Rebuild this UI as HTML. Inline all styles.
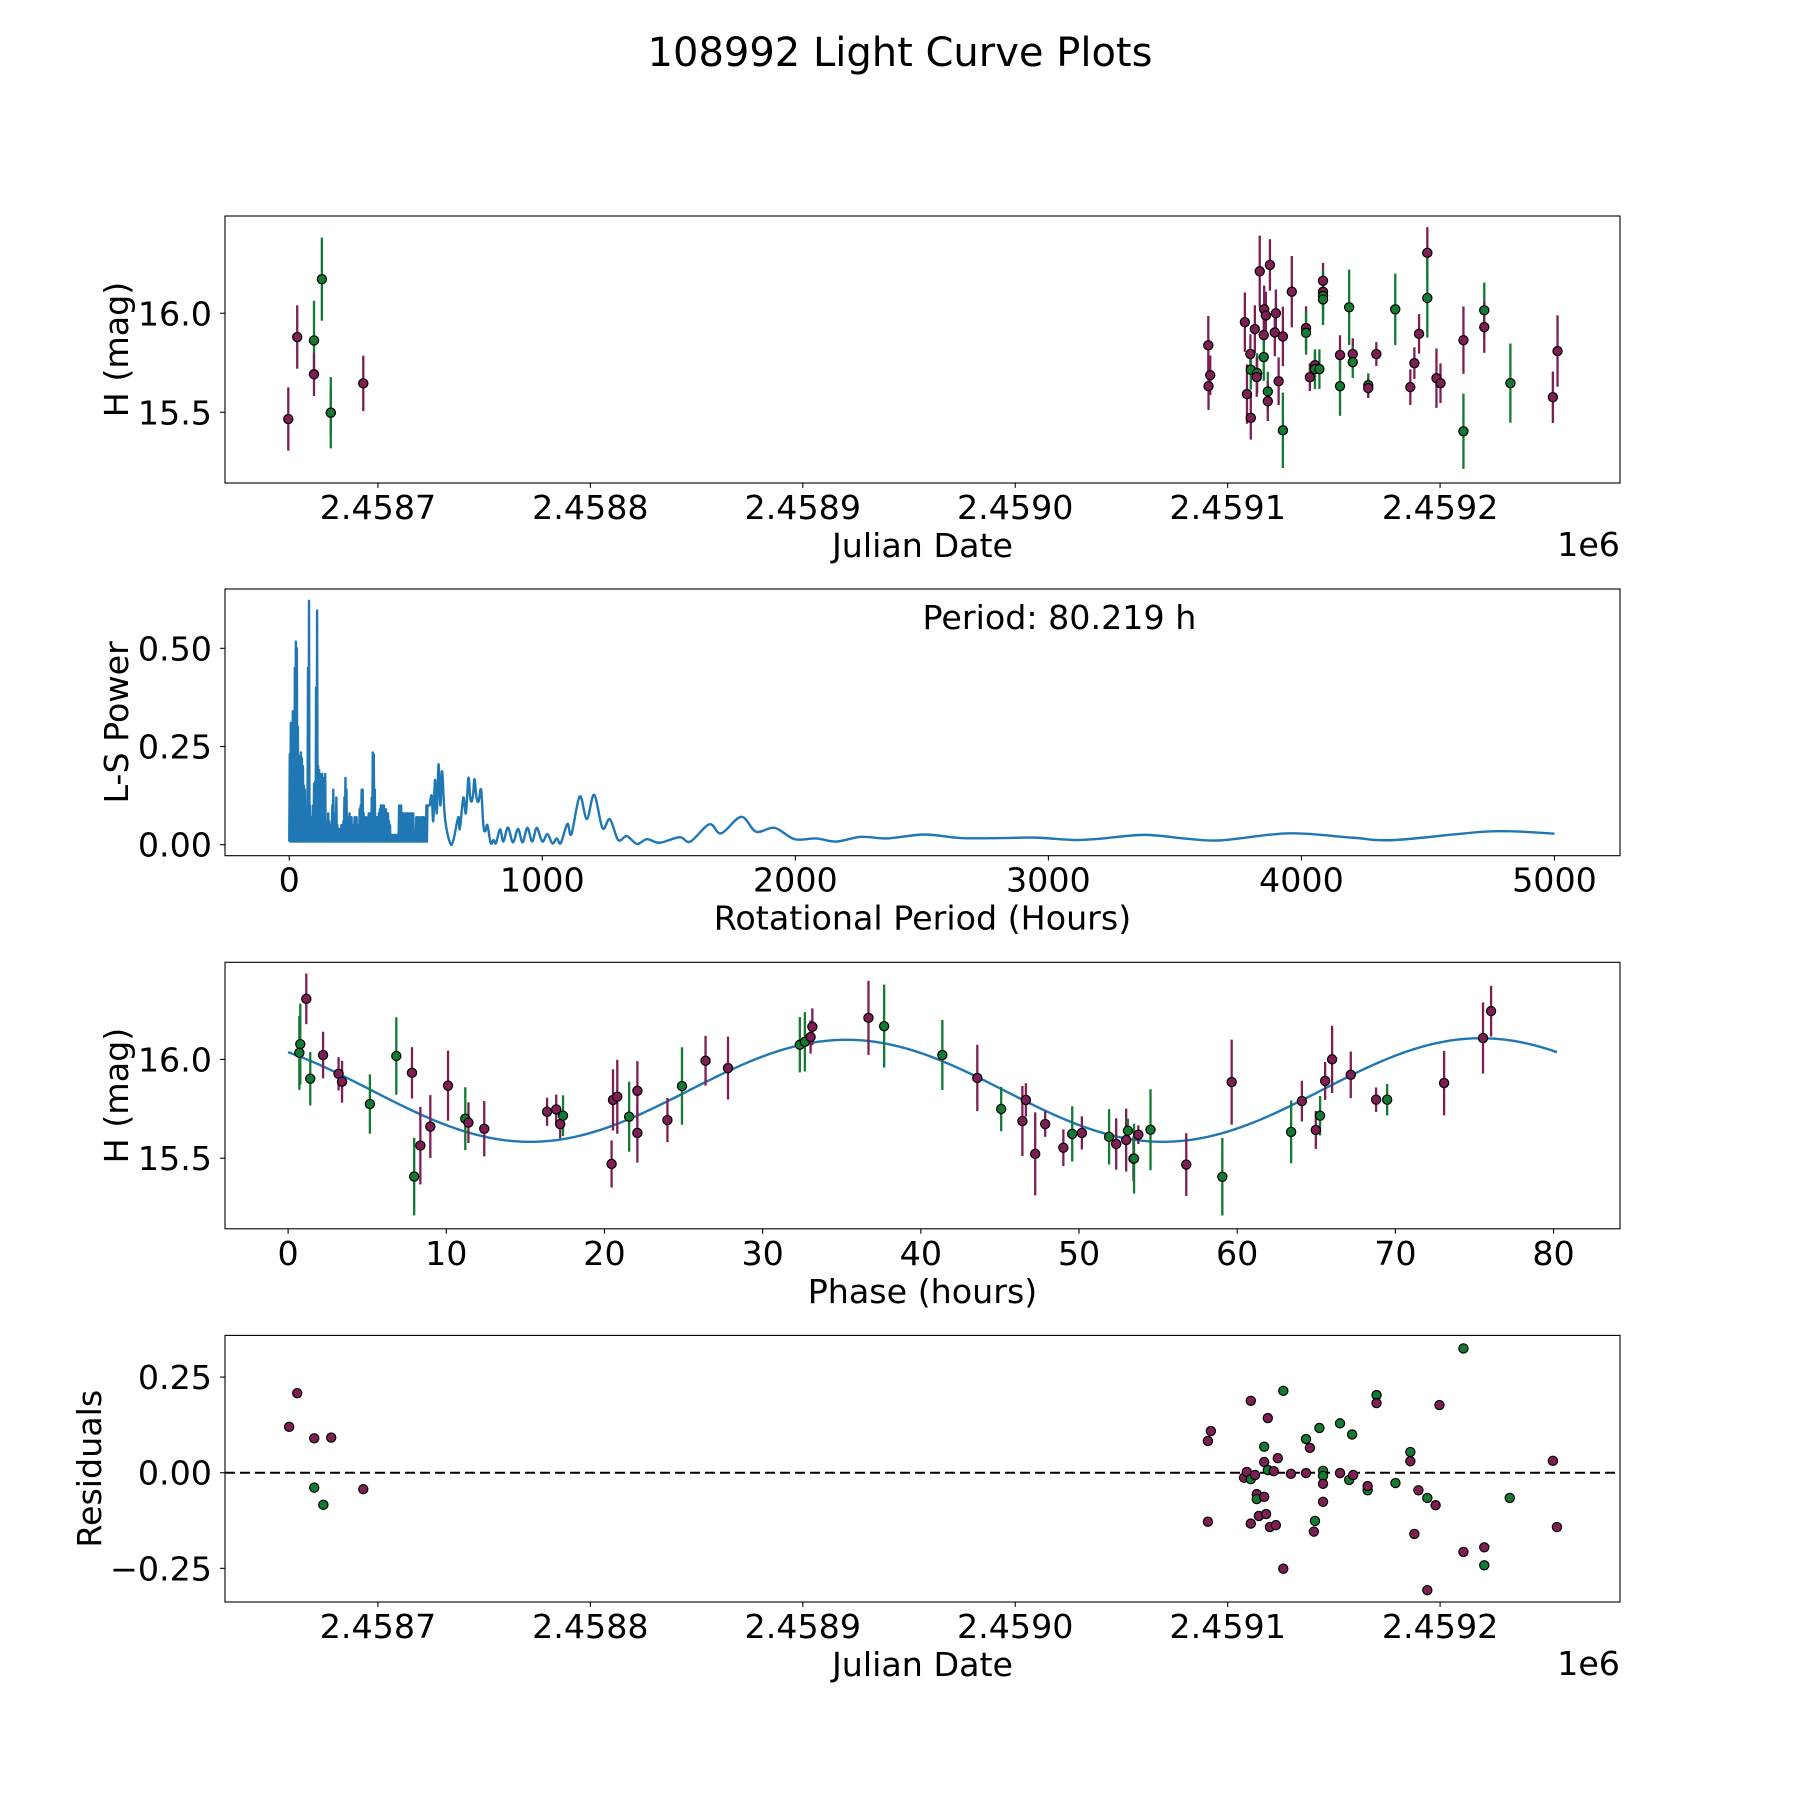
<!DOCTYPE html>
<html>
<head>
<meta charset="utf-8">
<style>
  html, body { margin: 0; padding: 0; background: #ffffff; }
  svg { display: block; font-family: "DejaVu Sans", "Liberation Sans", sans-serif; }
</style>
</head>
<body>
<svg id="fig" xmlns="http://www.w3.org/2000/svg" width="1800" height="1800" viewBox="0 0 1800 1800">
  <rect x="0" y="0" width="1800" height="1800" fill="#ffffff"/>
  <text x="900" y="66" text-anchor="middle" font-size="40" fill="#000">108992 Light Curve Plots</text>
</svg>
<script>
// ---------- Panel 1: light curve data ----------
const lcJD = [2458657.8,2458662.0,2458669.9,2458669.9,2458673.6,2458677.8,2458677.8,2458693.1,
 2459090.9,2459091.8,2459091.0,2459108.1,2459112.8,2459110.7,2459110.9,2459113.9,2459113.7,2459109.1,2459110.9,
 2459115.1,2459119.9,2459117.2,2459118.0,2459117.0,2459117.0,2459118.9,2459118.9,2459122.7,2459122.2,2459126.0,
 2459124.0,2459126.0,2459130.2,2459136.9,2459136.9,2459138.7,2459141.1,2459141.1,2459143.2,2459144.9,2459144.9,
 2459144.9,2459144.9,2459152.9,2459152.9,2459157.2,2459158.9,2459158.9,2459166.2,2459166.2,2459170.0,2459178.9,
 2459186.0,2459187.9,2459190.1,2459194.0,2459194.0,2459198.3,2459200.2,2459211.0,2459211.0,2459220.8,2459220.8,
 2459233.1,2459253.1,2459255.3];
const lcMag = [15.466,15.88,15.863,15.692,16.172,15.498,15.498,15.646,
 15.838,15.687,15.632,15.955,15.92,15.794,15.715,15.698,15.678,15.592,15.472,
 16.212,16.244,16.02,15.989,15.89,15.779,15.605,15.556,16.0,15.903,15.883,
 15.657,15.409,16.109,15.925,15.901,15.677,15.738,15.718,15.718,16.164,16.108,
 16.088,16.07,15.789,15.632,16.03,15.794,15.753,15.637,15.622,15.794,16.02,
 15.627,15.748,15.896,16.305,16.077,15.672,15.647,15.864,15.404,16.015,15.93,
 15.647,15.576,15.809];
const lcErr = [0.16,0.16,0.2,0.11,0.21,0.12,0.18,0.14,
 0.148,0.1,0.12,0.15,0.12,0.1,0.1,0.1,0.1,0.15,0.11,
 0.18,0.13,0.12,0.12,0.12,0.12,0.1,0.1,0.12,0.12,0.15,
 0.12,0.19,0.18,0.11,0.11,0.07,0.06,0.1,0.1,0.09,0.09,
 0.13,0.13,0.1,0.15,0.19,0.08,0.08,0.06,0.05,0.06,0.18,
 0.09,0.08,0.1,0.13,0.2,0.15,0.1,0.17,0.19,0.14,0.13,
 0.2,0.13,0.18];
const lcBand = [0,0,1,0,1,0,1,0,
 0,0,0,0,0,0,1,1,0,0,0,
 0,0,0,0,0,1,1,0,0,0,0,
 0,1,0,0,1,0,0,1,1,0,0,
 1,1,0,1,1,0,1,1,0,0,1,
 0,0,0,0,1,0,0,0,1,1,0,
 1,0,0];

// ---------- Panel 2: Lomb-Scargle periodogram ----------
const lsDenseStart = 0;
const lsDenseStep = 4;
const lsDenseFloor = 0.008;
const lsDensePeaks = [0.23,0.31,0.31,0.34,0.30,0.45,0.517,0.50,0.30,0.225,0.22,0.235,0.22,0.20,0.15,0.14,0.06,0.09,0.45,0.621,
 0.10,0.06,0.07,0.10,0.155,0.16,0.40,0.596,0.20,0.19,0.17,0.18,0.18,0.17,0.15,0.18,0.06,0.05,0.08,0.06,
 0.05,0.04,0.10,0.14,0.08,0.06,0.12,0.05,0.03,0.04,0.03,0.05,0.04,0.06,0.12,0.17,0.14,0.07,0.05,0.08,
 0.06,0.07,0.05,0.04,0.07,0.06,0.07,0.04,0.05,0.09,0.10,0.14,0.14,0.08,0.06,0.07,0.06,0.07,0.08,0.06,
 0.08,0.12,0.235,0.23,0.14,0.06,0.07,0.05,0.08,0.09,0.10,0.10,0.09,0.10,0.08,0.09,0.07,0.08,0.06,0.05,
 0.025,0.02,0.025,0.02,0.025,0.02,0.025,0.025,0.10,0.09,0.10,0.08,0.08,0.07,0.08,0.06,0.08,0.07,0.08,0.06,
 0.08,0.07,0.08,0.02,0.02,0.07,0.06,0.07,0.06,0.07,0.06,0.07,0.07,0.06,0.07,0.10,0.10];
const lsSmoothPeriod = [555,563,569,576,583,590,597,604,615,635,648,668,674,688,698,708,715,721,727,732,740,748,758,767,774,783,796,807,817,833,846,864,884,904,922,941,960,978,1000,1020,1040,1057,1073,1099,1115,1148,1176,1205,1238,1267,1300,1334,1374,1414,1463,1542,1585,1660,1707,1786,1845,1918,1997,2082,2161,2260,2365,2510,2655,2813,2950,3100,3200,3380,3550,3680,3950,4200,4370,4750,5000];
const lsSmoothPower = [0.10,0.125,0.06,0.165,0.08,0.205,0.10,0.187,0.07,0.005,0.01,0.07,0.04,0.12,0.08,0.17,0.12,0.11,0.13,0.167,0.12,0.11,0.14,0.05,0.034,0.05,0.004,0.012,0.004,0.039,0.008,0.044,0.006,0.04,0.006,0.043,0.008,0.043,0.008,0.027,0.003,0.016,0.004,0.053,0.027,0.123,0.065,0.127,0.042,0.065,0.012,0.022,0.002,0.014,0.005,0.019,0.008,0.052,0.029,0.071,0.033,0.043,0.014,0.016,0.008,0.02,0.016,0.026,0.017,0.017,0.018,0.012,0.015,0.025,0.015,0.011,0.029,0.018,0.012,0.034,0.028];
const bestPeriodText = "Period: 80.219 h";

// ---------- Panel 3: phased light curve ----------
const phHours = [1.15,0.77,0.71,1.40,2.21,3.19,3.41,5.17,6.84,7.83,7.97,8.36,8.99,10.11,11.2,11.4,12.4,16.37,16.95,17.2,17.38,20.45,20.54,20.81,21.56,22.08,22.08,23.98,24.9,26.39,27.81,
 32.35,32.67,33.03,33.14,36.69,37.68,41.36,43.57,45.08,46.42,46.64,47.23,47.86,49.01,49.57,50.18,51.9,52.35,52.98,53.09,53.44,53.48,53.75,54.52,56.78,59.06,59.65,63.41,64.09,
 64.97,65.24,65.56,66.0,67.18,68.78,69.48,73.08,75.54,76.05];
const phMag = [16.306,16.077,16.033,15.902,16.022,15.927,15.887,15.774,16.017,15.932,15.407,15.564,15.66,15.867,15.7,15.68,15.649,15.735,15.747,15.673,15.715,15.471,15.795,15.811,15.71,15.841,15.628,15.693,15.865,15.993,15.956,
 16.074,16.089,16.113,16.165,16.21,16.168,16.022,15.906,15.749,15.688,15.795,15.522,15.673,15.553,15.623,15.628,15.608,15.572,15.592,15.639,15.498,15.498,15.619,15.644,15.468,15.406,15.885,15.633,15.789,
 15.643,15.715,15.891,16.0,15.922,15.796,15.796,15.88,16.108,16.244];
const phErr = [0.128,0.205,0.187,0.135,0.118,0.084,0.106,0.15,0.196,0.13,0.196,0.196,0.159,0.177,0.159,0.103,0.14,0.071,0.075,0.072,0.103,0.119,0.155,0.187,0.177,0.15,0.15,0.112,0.196,0.126,0.159,
 0.14,0.15,0.084,0.093,0.187,0.21,0.177,0.168,0.112,0.177,0.084,0.21,0.065,0.093,0.14,0.084,0.14,0.13,0.159,0.061,0.112,0.177,0.047,0.205,0.159,0.196,0.215,0.159,0.103,
 0.096,0.1,0.096,0.17,0.118,0.062,0.08,0.163,0.18,0.128];
const phBand = [0,1,1,1,0,0,0,1,1,0,1,0,0,0,1,0,0,0,0,0,1,0,0,0,1,0,0,0,1,0,0,
 1,1,0,0,0,1,1,0,1,0,0,0,0,0,1,0,1,0,0,1,0,1,0,1,0,1,0,1,0,
 0,1,0,0,0,0,1,0,0,0];
// fitted model: mean, half-period harmonic amplitude & peak phase, full-period harmonic amplitude & peak phase, period (h)
const modelMean = [15.843];
const modelAmp = [0.26, 0.004];
const modelPeak = [35.3, 75.0];
const modelPeriod = [80.219];

// ---------- Panel 4: residuals ----------
const resJD = [2458658.2,2458662.0,2458670.0,2458670.0,2458674.3,2458678.0,2458693.1,
 2459090.7,2459092.1,2459090.7,2459107.7,2459109.0,2459110.9,2459112.9,2459110.9,2459110.9,2459113.7,2459113.7,2459117.2,2459117.2,2459117.2,2459118.9,2459118.9,2459121.7,2459123.6,2459114.7,2459118.1,2459119.9,2459122.7,2459126.2,2459126.2,2459129.8,
 2459136.9,2459138.7,2459136.9,2459143.2,2459141.1,2459140.6,2459144.9,2459144.9,2459144.9,2459144.9,2459152.9,2459152.9,2459157.2,2459159.1,2459158.6,2459165.9,2459165.9,2459170.1,2459170.1,2459179.0,
 2459186.0,2459186.0,2459189.8,2459194.0,2459197.9,2459187.9,2459194.0,2459199.7,2459211.0,2459211.0,2459220.8,2459220.8,2459232.8,2459253.1,2459255.0];
const resVal = [0.12,0.208,0.09,-0.039,-0.084,0.092,-0.043,
 0.083,0.109,-0.128,-0.013,0.002,-0.017,-0.006,0.188,-0.133,-0.056,-0.069,-0.063,0.068,0.028,0.143,0.007,0.004,0.038,-0.113,-0.108,-0.142,-0.137,0.214,-0.251,-0.003,
 0.088,0.065,-0.001,0.117,-0.126,-0.154,0.005,-0.008,-0.029,-0.076,0.129,-0.001,-0.019,-0.006,0.1,-0.046,-0.035,0.203,0.182,-0.027,
 0.054,0.03,-0.046,-0.066,-0.085,-0.16,-0.307,0.177,0.325,-0.207,-0.195,-0.242,-0.066,0.031,-0.142];
const resBand = [0,0,0,1,1,0,0,
 0,0,0,0,0,1,0,0,0,0,1,0,1,0,0,1,0,0,0,0,0,0,1,0,0,
 1,0,0,1,1,0,1,1,0,0,1,0,1,0,1,1,0,1,0,1,
 1,0,0,1,0,0,0,0,1,0,0,1,1,0,0];

// ---------- tick arrays ----------
const jdTicks = [2458700,2458800,2458900,2459000,2459100,2459200];
const jdTickLabels = ["2.4587","2.4588","2.4589","2.4590","2.4591","2.4592"];
const magTicks = [15.5,16.0];
const magTickLabels = ["15.5","16.0"];
const lsXTicks = [0,1000,2000,3000,4000,5000];
const lsXTickLabels = ["0","1000","2000","3000","4000","5000"];
const lsYTicks = [0,0.25,0.5];
const lsYTickLabels = ["0.00","0.25","0.50"];
const phTicks = [0,10,20,30,40,50,60,70,80];
const phTickLabels = ["0","10","20","30","40","50","60","70","80"];
const resTicks = [-0.25,0,0.25];
const resTickLabels = ["\u22120.25","0.00","0.25"];

const COLORS = ["#7d1f55", "#137a31"];
const NS = "http://www.w3.org/2000/svg";
const svg = document.getElementById("fig");

function mk(tag, attrs, parent) {
  const e = document.createElementNS(NS, tag);
  for (const k in attrs) e.setAttribute(k, attrs[k]);
  (parent || svg).appendChild(e);
  return e;
}
function makeAxis(left, right, top, bottom, xmin, xmax, ymin, ymax) {
  return {
    left, right, top, bottom,
    x: v => left + (v - xmin) / (xmax - xmin) * (right - left),
    y: v => bottom - (v - ymin) / (ymax - ymin) * (bottom - top)
  };
}
const A1 = makeAxis(225, 1620, 216, 483, 2458628.0, 2459284.7, 15.143, 16.491);
const A2 = makeAxis(225, 1620, 589, 855.7, -254, 5259, -0.028, 0.651);
const A3 = makeAxis(225, 1620, 962.3, 1228.8, -3.99, 84.2, 15.143, 16.491);
const A4 = makeAxis(225, 1620, 1335.4, 1602, 2458628.0, 2459284.7, -0.338, 0.359);

function drawFrame(ax, name) {
  const g = mk("g", {});
  
  
  const r = mk("rect", {x: ax.left, y: ax.top, width: ax.right - ax.left, height: ax.bottom - ax.top, fill: "none", stroke: "#000", "stroke-width": 1.1}, g);
  
  
  return g;
}
function xTicks(ax, g, vals, labels, name) {
  vals.forEach((v, i) => {
    const x = ax.x(v);
    const t = mk("line", {x1: x, x2: x, y1: ax.bottom, y2: ax.bottom + 4.9, stroke: "#000", "stroke-width": 1.1}, g);
    
    
    const tx = mk("text", {x: x, y: ax.bottom + 36, "text-anchor": "middle", "font-size": 33.3, fill: "#000"}, g);
    tx.textContent = labels[i];
    
    
  });
}
function yTicks(ax, g, vals, labels, name) {
  vals.forEach((v, i) => {
    const y = ax.y(v);
    const t = mk("line", {x1: ax.left - 4.9, x2: ax.left, y1: y, y2: y, stroke: "#000", "stroke-width": 1.1}, g);
    
    
    const tx = mk("text", {x: ax.left - 13, y: y + 12, "text-anchor": "end", "font-size": 33.3, fill: "#000"}, g);
    tx.textContent = labels[i];
    
    
  });
}
function xLabel(ax, g, text, name) {
  const t = mk("text", {x: (ax.left + ax.right) / 2, y: ax.bottom + 74, "text-anchor": "middle", "font-size": 33.3, fill: "#000"}, g);
  t.textContent = text;
  
  
}
function yLabel(ax, g, text, bx, name) {
  const cy = (ax.top + ax.bottom) / 2;
  const t = mk("text", {x: bx, y: cy, "text-anchor": "middle", "font-size": 33.3, fill: "#000", transform: "rotate(-90 " + bx + " " + cy + ")"}, g);
  t.textContent = text;
  
  
}
function offsetText(ax, g, name) {
  const t = mk("text", {x: ax.right, y: ax.bottom + 73, "text-anchor": "end", "font-size": 33.3, fill: "#000"}, g);
  t.textContent = "1e6";
  
  
}
function errPoints(ax, g, xs, ys, es, bands, name) {
  for (let i = 0; i < xs.length; i++) {
    const x = ax.x(xs[i]);
    const l = mk("line", {x1: x, x2: x, y1: ax.y(ys[i] - es[i]), y2: ax.y(ys[i] + es[i]), stroke: COLORS[bands[i]], "stroke-width": 2.3}, g);
    
    
  }
  for (let i = 0; i < xs.length; i++) {
    const c = mk("circle", {cx: ax.x(xs[i]), cy: ax.y(ys[i]), r: 4.6, fill: COLORS[bands[i]], stroke: "#000", "stroke-width": 1.2}, g);
    
    
  }
}

// Panel 1
const g1 = drawFrame(A1, "light-curve");
errPoints(A1, g1, lcJD, lcMag, lcErr, lcBand, "light-curve");
xTicks(A1, g1, jdTicks, jdTickLabels, "light-curve");
yTicks(A1, g1, magTicks, magTickLabels, "light-curve");
xLabel(A1, g1, "Julian Date", "light-curve");
yLabel(A1, g1, "H (mag)", 128, "light-curve");
offsetText(A1, g1, "light-curve");

// Panel 2
const g2 = drawFrame(A2, "periodogram");
{
  let d = "";
  for (let k = 0; k < lsDensePeaks.length; k++) {
    const pt = lsDenseStart + k * lsDenseStep;
    d += (k === 0 ? "M" : "L") + A2.x(pt).toFixed(2) + "," + A2.y(lsDenseFloor).toFixed(2);
    d += "L" + A2.x(pt + lsDenseStep / 2).toFixed(2) + "," + A2.y(lsDensePeaks[k]).toFixed(2);
  }
  const px = lsSmoothPeriod.map(A2.x), py = lsSmoothPower.map(A2.y);
  d += "L" + px[0].toFixed(2) + "," + py[0].toFixed(2);
  for (let i = 0; i < px.length - 1; i++) {
    const x0 = px[Math.max(i - 1, 0)], y0 = py[Math.max(i - 1, 0)];
    const x1 = px[i], y1 = py[i], x2 = px[i + 1], y2 = py[i + 1];
    const x3 = px[Math.min(i + 2, px.length - 1)], y3 = py[Math.min(i + 2, px.length - 1)];
    const c1x = x1 + (x2 - x0) / 6, c1y = y1 + (y2 - y0) / 6;
    const c2x = x2 - (x3 - x1) / 6, c2y = y2 - (y3 - y1) / 6;
    d += "C" + c1x.toFixed(2) + "," + c1y.toFixed(2) + " " + c2x.toFixed(2) + "," + c2y.toFixed(2) + " " + x2.toFixed(2) + "," + y2.toFixed(2);
  }
  const p = mk("path", {d: d, fill: "none", stroke: "#1f77b4", "stroke-width": 2.4, "stroke-linejoin": "round"}, g2);
  
  
}
xTicks(A2, g2, lsXTicks, lsXTickLabels, "periodogram");
yTicks(A2, g2, lsYTicks, lsYTickLabels, "periodogram");
xLabel(A2, g2, "Rotational Period (Hours)", "periodogram");
yLabel(A2, g2, "L-S Power", 128, "periodogram");
{
  const t = mk("text", {x: 922.5, y: 629, "text-anchor": "start", "font-size": 33.3, fill: "#000"}, g2);
  t.textContent = bestPeriodText;
  
  
}

// Panel 3
const g3 = drawFrame(A3, "phase-curve");
{
  let d = "";
  const P = modelPeriod[0];
  for (let ph = 0, i = 0; ph <= P + 1e-9; ph += P / 320, i++) {
    const m = modelMean[0]
      + modelAmp[0] * Math.cos(2 * Math.PI * (ph - modelPeak[0]) / (P / 2))
      + modelAmp[1] * Math.cos(2 * Math.PI * (ph - modelPeak[1]) / P);
    d += (i === 0 ? "M" : "L") + A3.x(ph).toFixed(2) + "," + A3.y(m).toFixed(2);
  }
  const p = mk("path", {d: d, fill: "none", stroke: "#1f77b4", "stroke-width": 2.4}, g3);
  
  
}
errPoints(A3, g3, phHours, phMag, phErr, phBand, "phase-curve");
xTicks(A3, g3, phTicks, phTickLabels, "phase-curve");
yTicks(A3, g3, magTicks, magTickLabels, "phase-curve");
xLabel(A3, g3, "Phase (hours)", "phase-curve");
yLabel(A3, g3, "H (mag)", 128, "phase-curve");

// Panel 4
const g4 = drawFrame(A4, "residuals");
{
  const z = A4.y(0);
  const l = mk("line", {x1: A4.left, x2: A4.right, y1: z, y2: z, stroke: "#000", "stroke-width": 2, "stroke-dasharray": "10,5"}, g4);
  
  
  for (let i = 0; i < resJD.length; i++) {
    const c = mk("circle", {cx: A4.x(resJD[i]), cy: A4.y(resVal[i]), r: 4.6, fill: COLORS[resBand[i]], stroke: "#000", "stroke-width": 1.2}, g4);
    
    
  }
}
xTicks(A4, g4, jdTicks, jdTickLabels, "residuals");
yTicks(A4, g4, resTicks, resTickLabels, "residuals");
xLabel(A4, g4, "Julian Date", "residuals");
yLabel(A4, g4, "Residuals", 101, "residuals");
offsetText(A4, g4, "residuals");
</script>
</body>
</html>
